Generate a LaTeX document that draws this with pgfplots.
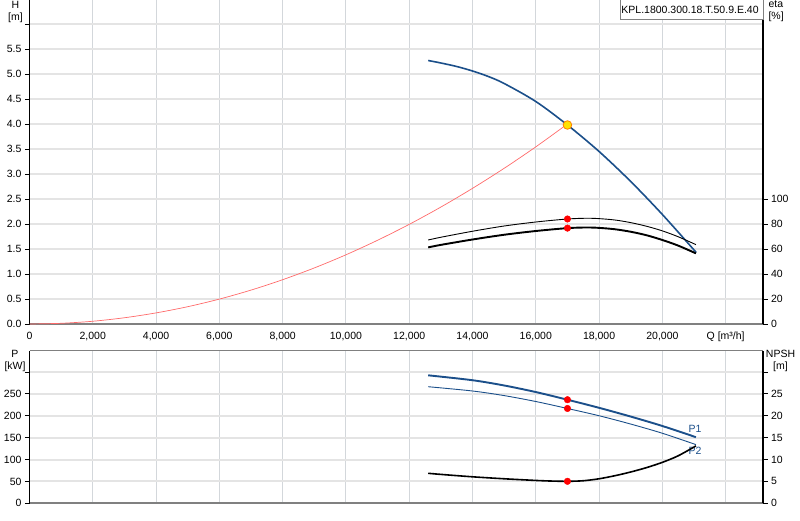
\documentclass[border=0pt]{standalone}
\usepackage{pgfplots}
\pgfplotsset{compat=1.18}
\usepackage{fontspec}
\setmainfont{Liberation Sans}

\definecolor{hblue}{HTML}{1B4F8A}
\definecolor{gridh}{HTML}{E4E4E4}
\definecolor{gridv}{HTML}{D3D7DB}
\definecolor{axgray}{HTML}{808080}
\definecolor{sysred}{HTML}{FF6A6A}

\pgfplotsset{
  pump/.style={
    scale only axis, width=733.5pt, anchor=south west,
    xmin=0, xmax=23180, scaled x ticks=false, scaled y ticks=false,
    tick label style={font=\fontsize{10.5}{12}\selectfont},
    /pgf/number format/assume math mode=true,
    tick align=outside, major tick length=4.5pt,
    tick style={black, line width=0.8pt},
    x tick style={draw=none},
  },
  leftside/.style={
    pump,
    axis x line*=bottom, axis y line*=left,
    x axis line style={axgray, line width=2pt, -},
    y axis line style={black, line width=1.3pt, -},
    xtick={0,2000,...,22000},
    grid=major,
    major x grid style={gridv, line width=1pt},
    major y grid style={gridh, line width=2pt},
  },
  rightside/.style={
    pump,
    axis x line=none, axis y line*=right,
    y axis line style={black, line width=1.3pt, -},
    yticklabel style={anchor=west},
  },
}

\begin{document}
\begin{tikzpicture}
\useasboundingbox (0pt,0pt) rectangle (800pt,520pt);

% ---------- upper panel: head and efficiency
\begin{axis}[leftside, at={(29.5pt,196pt)}, height=324pt,
  ymin=0, ymax=6.48,
  ytick={0,0.5,...,6.0},
  yticklabels={0.0,0.5,1.0,1.5,2.0,2.5,3.0,3.5,4.0,4.5,5.0,5.5,{}},
  xticklabels={0,{2,000},{4,000},{6,000},{8,000},{10,000},{12,000},{14,000},{16,000},{18,000},{20,000},{Q [m³/h]}},
]
% system curve
\addplot[sysred, line width=0.7pt, smooth] coordinates {
  (0,0) (1000,0.014) (2000,0.055) (3000,0.125) (4000,0.222) (5000,0.346)
  (6000,0.498) (7000,0.678) (8000,0.886) (9000,1.121) (10000,1.384)
  (11000,1.675) (12000,1.993) (13000,2.339) (14000,2.713) (15000,3.114)
  (16000,3.543) (17000,4.0)
};
% pump curve H
\addplot[hblue, line width=1.6pt, smooth] coordinates {
  (12600,5.27) (13000,5.22) (13500,5.15) (14000,5.06) (14500,4.95)
  (15000,4.81) (16000,4.45) (17000,3.98) (18000,3.45) (19000,2.85)
  (20000,2.19) (21070,1.43)
};
\addplot[only marks, mark=*, mark size=4.3pt,
  mark options={fill=yellow!85!orange, draw=orange, line width=0.8pt}]
  coordinates {(17000,3.98)};
\end{axis}

\begin{axis}[rightside, at={(29.5pt,196pt)}, height=324pt,
  ymin=0, ymax=259.2,
  ytick={0,20,...,100},
]
% eta (hydraulic), thin
\addplot[black, line width=0.9pt, smooth] coordinates {
  (12600,67.2) (13000,69.4) (14000,74.2) (15000,78.4) (16000,81.6)
  (17000,84.0) (17600,84.6) (18000,84.3) (18500,83.2) (19000,81.1)
  (19500,78.2) (20000,74.5) (20500,69.8) (21060,63.5)
};
% eta (total), thick
\addplot[black, line width=1.9pt, smooth] coordinates {
  (12600,61.3) (13000,63.3) (14000,67.6) (15000,71.4) (16000,74.4)
  (17000,76.7) (17600,77.2) (18000,76.9) (18500,75.8) (19000,73.8)
  (19500,71.0) (20000,67.2) (20500,62.7) (21060,56.5)
};
\addplot[only marks, mark=*, mark size=3.3pt, red] coordinates {
  (17000,84.0) (17000,76.7)
};
\end{axis}

% ---------- lower panel: power and NPSH
\begin{axis}[leftside, at={(29.5pt,16.7pt)}, height=152.6pt,
  ymin=0, ymax=348.4,
  ytick={0,50,...,300},
  yticklabels={0,50,100,150,200,250,{}},
  xticklabels={},
]
\draw[axgray, line width=1.5pt] (rel axis cs:0,1) -- (rel axis cs:1,1);
% P1
\addplot[hblue, line width=1.9pt, smooth] coordinates {
  (12600,292.2) (14000,281.0) (15000,269.0) (16000,254.0) (17000,236.5)
  (18000,218.0) (19000,198.0) (20000,176.5) (21060,151.0)
};
% P2
\addplot[hblue, line width=0.9pt, smooth] coordinates {
  (12600,266.2) (14000,256.4) (15000,245.9) (16000,232.4) (17000,216.5)
  (18000,199.9) (19000,180.9) (20000,159.9) (21060,134.0)
};
\addplot[only marks, mark=*, mark size=3.3pt, red] coordinates {
  (17000,236.5) (17000,216.5)
};
\node[text=hblue, font=\fontsize{10.5}{12}\selectfont] at (axis cs:21030,169) {P1};
\node[text=hblue, font=\fontsize{10.5}{12}\selectfont] at (axis cs:21030,119.4) {P2};
\end{axis}

\begin{axis}[rightside, at={(29.5pt,16.7pt)}, height=152.6pt,
  ymin=0, ymax=34.84,
  ytick={0,5,...,30},
  yticklabels={0,5,10,15,20,25,{}},
]
% NPSH
\addplot[black, line width=1.6pt, smooth] coordinates {
  (12600,6.85) (13000,6.6) (14000,6.05) (15000,5.6) (16000,5.22)
  (16500,5.08) (17000,5.02) (17500,5.15) (18000,5.6) (18500,6.3)
  (19000,7.15) (19500,8.15) (20000,9.35) (20500,10.85) (21060,13.1)
};
\addplot[only marks, mark=*, mark size=3.3pt, red] coordinates {(17000,5.02)};
\end{axis}

% ---------- axis titles and type box
\begin{scope}[font=\fontsize{10.5}{12}\selectfont]
\node[align=center] at (15.5pt,508.5pt) {H\\{[m]}};
\node[align=left, anchor=west] at (765pt,508.5pt) {eta\\{[\%]}};
\node[align=center] at (15pt,159pt) {P\\{[kW]}};
\node[align=center] at (780.5pt,159pt) {NPSH\\{[m]}};
\draw[axgray, fill=white, line width=0.8pt] (620pt,501pt) rectangle (763pt,521pt);
\node at (690pt,510.5pt) {KPL.1800.300.18.T.50.9.E.40};
\end{scope}
\end{tikzpicture}
\end{document}
